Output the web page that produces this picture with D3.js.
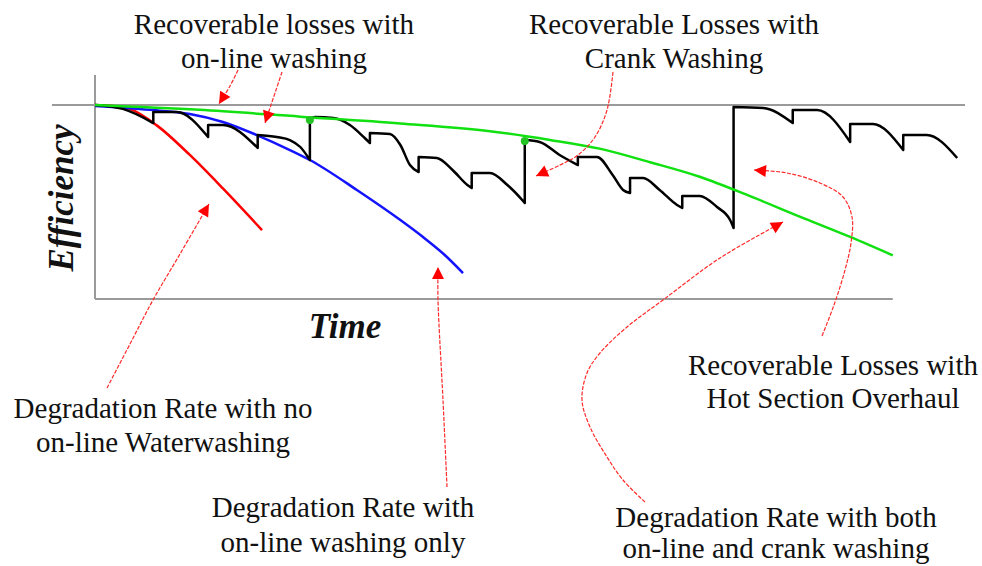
<!DOCTYPE html>
<html>
<head>
<meta charset="utf-8">
<script src="https://cdn.jsdelivr.net/npm/d3@7"></script>
<style>
  html, body { margin: 0; padding: 0; background: #fff; }
  svg { display: block; }
</style>
</head>
<body>
<svg id="chart" width="982" height="566"></svg>
<script>
// ---------- DATA (time units 0..100, efficiency units 80..100) ----------
const greenCurve = [[0,100],[12,99.5],[23.6,98.8],[35.1,98.1],[45.4,97.3],[52.3,96.4],[58,95.5],[63.8,94.1],[69.5,92.6],[75.3,90.6],[81,88.5],[86.8,86.4],[91.7,84.5]];
const redCurve = [[0,100],[2.0,99.9],[4.0,99.6],[7.1,97.9],[10.9,94.85],[14.7,91.4],[19.2,87.1]];
const blueCurve = [[0,99.9],[6.3,99.5],[10.9,99.07],[14.7,98.25],[18.6,96.9],[22.4,95.36],[24.7,94.33],[30.1,91.24],[35.1,88.14],[37.7,86.39],[40.2,84.54],[42.3,82.68]];
const sawtooth = [[0,100],[3.2,99.6],[6.7,98.14],[6.7,99.28],[9.4,99.28],[13.0,96.7],[13.0,97.94],[14.7,97.94],[18.7,95.57],[18.7,96.91],[20.9,96.7],[22.4,96.39],[23.6,95.67],[24.7,94.33],
  [24.7,98.56],[25.3,98.76],[27.4,98.66],[29.3,97.94],[31.0,96.6],[31.6,96.08],[31.6,97.11],[33.9,97.01],[35.1,95.88],[36.2,93.81],[37.2,93.09],[37.2,94.64],[39.3,94.54],[41.1,93.3],[42.8,91.75],[43.3,91.44],[43.3,92.99],[45.4,92.99],[47.4,91.75],[49.1,90.21],[49.4,89.9],
  [49.4,96.39],[51.1,96.19],[53.4,94.85],[55.5,93.81],[55.5,94.64],[57.7,94.64],[59.5,92.78],[60.7,91.24],[61.5,90.93],[61.5,92.47],[63.0,92.47],[64.9,91.24],[66.9,89.69],[67.5,89.38],[67.5,90.62],[69.5,90.62],[71.5,89.48],[73.0,88.14],[73.4,87.32],
  [73.4,99.79],[76.8,99.69],[80.2,98.14],[80.2,99.48],[83.0,99.48],[86.8,96.19],[86.8,98.04],[89.4,98.04],[92.9,95.36],[92.9,96.91],[95.6,96.91],[99.1,94.54]];
const crankWashPoints = [[24.7,98.56],[49.4,96.39]];
const axisLabels = ["Efficiency", "Time"];
const noteTexts = [
  ["Recoverable losses with", "on-line washing"],
  ["Recoverable Losses with", "Crank Washing"],
  ["Degradation Rate with no", "on-line Waterwashing"],
  ["Degradation Rate with", "on-line washing only"],
  ["Recoverable Losses with", "Hot Section Overhaul"],
  ["Degradation Rate with both", "on-line and crank washing"]
];

// ---------- LAYOUT ----------
const svg = d3.select("#chart");
const x = d3.scaleLinear().domain([0, 100]).range([95, 965]);
const y = d3.scaleLinear().domain([80, 100]).range([299, 105]);

const noteLayout = [
  {cx: 274, y1: 34, y2: 68},
  {cx: 674, y1: 34, y2: 68},
  {cx: 163, y1: 418, y2: 452},
  {cx: 343, y1: 517, y2: 552},
  {cx: 833, y1: 375, y2: 408},
  {cx: 776, y1: 527, y2: 558}
];
const arrowPaths = [
  [[238,70],[230,86],[219,104]],
  [[282,72],[276,90],[270,108],[265,123]],
  [[613,72],[607,110],[595,137],[578,155],[560,165],[536,176]],
  [[822,336],[834,305],[845,270],[851,243],[852,217],[843,197],[820,183],[787,173],[754,170]],
  [[645,502],[623,480],[607,457],[590,427],[582,400],[587,373],[600,353],[627,327],[663,300],[720,258],[783,222]],
  [[107,388],[130,344],[153,300],[180,254],[209,204]],
  [[447,487],[443,400],[438,300],[438,267]]
];

// ---------- FRAME ----------
const gray = "#9a9a9a";
const frame = svg.append("g");
frame.append("line").attr("x1", x(-4.95)).attr("x2", x(100)).attr("y1", y(100)).attr("y2", y(100))
  .attr("stroke", gray).attr("stroke-width", 2);
frame.append("line").attr("x1", x(0)).attr("x2", x(0)).attr("y1", y(103.1)).attr("y2", y(80))
  .attr("stroke", gray).attr("stroke-width", 2);
frame.append("line").attr("x1", x(0)).attr("x2", x(91.7)).attr("y1", y(80)).attr("y2", y(80))
  .attr("stroke", gray).attr("stroke-width", 2);

// ---------- SERIES ----------
const line = d3.line().x(d => x(d[0])).y(d => y(d[1]));
const smooth = d3.line().x(d => x(d[0])).y(d => y(d[1])).curve(d3.curveMonotoneX);

// sawtooth: smooth runs joined by vertical recoveries
function sawPath(pts) {
  const runs = [];
  let cur = [pts[0]];
  for (let i = 1; i < pts.length; i++) {
    if (pts[i][0] === pts[i - 1][0]) { runs.push(cur); cur = [pts[i]]; }
    else cur.push(pts[i]);
  }
  runs.push(cur);
  return runs.map((r, i) => {
    const s = r.length > 1 ? smooth(r) : `M${x(r[0][0])},${y(r[0][1])}`;
    return i === 0 ? s : "L" + s.slice(1);
  }).join("");
}

svg.append("path").datum(redCurve).attr("d", smooth).attr("fill", "none")
  .attr("stroke", "#ff0000").attr("stroke-width", 2.5);
svg.append("path").datum(blueCurve).attr("d", smooth).attr("fill", "none")
  .attr("stroke", "#1414ff").attr("stroke-width", 2.5);
svg.append("path").attr("d", sawPath(sawtooth)).attr("fill", "none")
  .attr("stroke", "#000").attr("stroke-width", 2.5).attr("stroke-linejoin", "round");
svg.append("path").datum(greenCurve).attr("d", smooth).attr("fill", "none")
  .attr("stroke", "#11e011").attr("stroke-width", 2.5);
svg.selectAll("circle.cw").data(crankWashPoints).enter().append("circle")
  .attr("cx", d => x(d[0])).attr("cy", d => y(d[1]) + 1).attr("r", 4).attr("fill", "#22c422");

// ---------- ANNOTATION ARROWS ----------
const arrowLine = d3.line().curve(d3.curveCatmullRom);
arrowPaths.forEach(pts => {
  svg.append("path").attr("d", arrowLine(pts)).attr("fill", "none")
    .attr("stroke", "#ff2a2a").attr("stroke-width", 1.2).attr("stroke-dasharray", "4,1.5");
  const [p0, p1] = [pts[pts.length - 2], pts[pts.length - 1]];
  const ang = Math.atan2(p1[1] - p0[1], p1[0] - p0[0]);
  const L = 12, W = 6;
  const bx = p1[0] - L * Math.cos(ang), by = p1[1] - L * Math.sin(ang);
  const nx = -Math.sin(ang) * W, ny = Math.cos(ang) * W;
  svg.append("path")
    .attr("d", `M${p1[0]},${p1[1]}L${bx + nx},${by + ny}L${bx - nx},${by - ny}Z`)
    .attr("fill", "#ff0000");
});

// ---------- TEXT ----------
const serif = "'Liberation Serif', 'Times New Roman', Times, serif";
noteTexts.forEach((lines, i) => {
  const L = noteLayout[i];
  [L.y1, L.y2].forEach((yy, j) => {
    svg.append("text").attr("x", L.cx).attr("y", yy).attr("text-anchor", "middle")
      .attr("font-family", serif).attr("font-size", 29).attr("fill", "#111")
      .text(lines[j]);
  });
});
svg.append("text").attr("transform", "translate(73,198) rotate(-90)").attr("text-anchor", "middle")
  .attr("font-family", serif).attr("font-size", 35).attr("font-style", "italic").attr("font-weight", "bold")
  .attr("fill", "#111").text(axisLabels[0]);
svg.append("text").attr("x", 345).attr("y", 338).attr("text-anchor", "middle")
  .attr("font-family", serif).attr("font-size", 35).attr("font-style", "italic").attr("font-weight", "bold")
  .attr("fill", "#111").text(axisLabels[1]);
</script>
</body>
</html>
